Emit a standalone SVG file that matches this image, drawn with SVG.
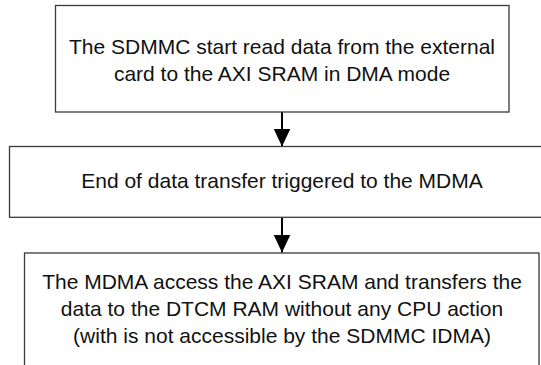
<svg xmlns="http://www.w3.org/2000/svg" width="541" height="365" viewBox="0 0 541 365">
<style>
.box{fill:#fff;stroke:#3a3a3a;stroke-width:1.3}
.t{font-family:"Liberation Sans",Arial,sans-serif;font-size:21px;fill:#111;text-anchor:middle}
.c{stroke:#000;stroke-width:2;fill:none}
</style>
<defs>
<marker id="ah" markerUnits="userSpaceOnUse" markerWidth="18" markerHeight="20" refX="18" refY="8.5" orient="auto">
<path d="M0,0 L18,8.5 L0,17 Z" fill="#000"/>
</marker>
</defs>
<rect width="541" height="365" fill="#fff"/>
<g id="connectors">
<line class="c" x1="282" y1="112" x2="282" y2="146.5" marker-end="url(#ah)"/>
<line class="c" x1="282" y1="217.5" x2="282" y2="252.5" marker-end="url(#ah)"/>
</g>
<g id="step1">
<rect class="box" x="55.5" y="5.5" width="453.5" height="106.5"/>
<text class="t" x="282" y="54">The SDMMC start read data from the external</text>
<text class="t" x="282" y="81">card to the AXI SRAM in DMA mode</text>
</g>
<g id="step2">
<rect class="box" x="9.5" y="146.5" width="545" height="70.8"/>
<text class="t" x="282" y="188">End of data transfer triggered to the MDMA</text>
</g>
<g id="step3">
<rect class="box" x="24.5" y="253" width="514.5" height="130"/>
<text class="t" x="282" y="289">The MDMA access the AXI SRAM and transfers the</text>
<text class="t" x="282" y="316">data to the DTCM RAM without any CPU action</text>
<text class="t" x="282" y="343">(with is not accessible by the SDMMC IDMA)</text>
</g>
</svg>
